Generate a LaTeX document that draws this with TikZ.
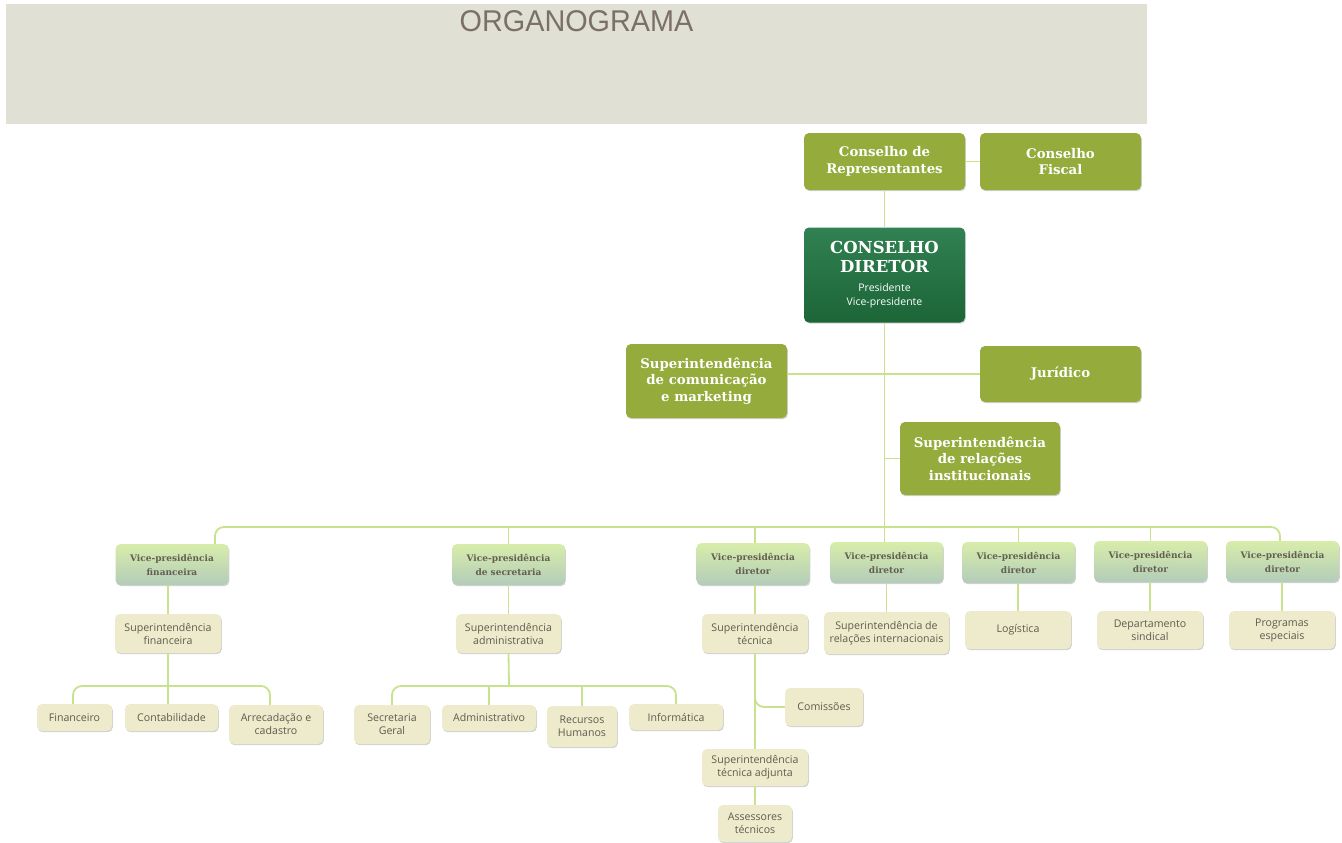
\documentclass[tikz,border=0pt]{standalone}
\usepackage{fontspec}
\setmainfont{DejaVu Serif}
\newfontfamily\slab{DejaVu Serif}
\newfontfamily\subf{Open Sans}
\newfontfamily\titlef{Liberation Sans}
\usetikzlibrary{shadows}
\definecolor{banner}{HTML}{E1E0D5}
\definecolor{titlec}{HTML}{7B7067}
\definecolor{olive}{HTML}{95AB3B}
\definecolor{dgtop}{HTML}{318152}
\definecolor{dgbot}{HTML}{1C6537}
\definecolor{vptop}{HTML}{D8EDAA}
\definecolor{vpbot}{HTML}{B3CCB9}
\definecolor{vptext}{HTML}{635F52}
\definecolor{pale}{HTML}{EDEBCB}
\definecolor{subtext}{HTML}{5E5B50}
\definecolor{lineg}{HTML}{C8E28E}
\newcommand{\cdbig}{\slab\bfseries\fontsize{16.5}{19}\selectfont}
\newcommand{\cdsmall}{\subf\mdseries\fontsize{10.5}{13}\selectfont}
\tikzset{
  sz/.style 2 args={minimum width=#1pt, minimum height=#2pt},
  shad/.style={drop shadow={shadow xshift=0.8pt, shadow yshift=-1.2pt, opacity=0.18, fill=black}},
  topbox/.style={rectangle, rounded corners=5pt, fill=olive, text=white, inner sep=0pt,
    font=\slab\bfseries\fontsize{13.3}{16.5}\selectfont, align=center, shad},
  dirbox/.style={rectangle, rounded corners=5pt, top color=dgtop, bottom color=dgbot, text=white,
    inner sep=0pt, align=center, font=\cdbig, shad},
  vpbox/.style={rectangle, rounded corners=5pt, top color=vptop, bottom color=vpbot, text=vptext,
    inner sep=0pt, font=\slab\bfseries\fontsize{9}{14}\selectfont, align=center, shad},
  subbox/.style={rectangle, rounded corners=5pt, fill=pale, text=subtext, inner sep=0pt,
    font=\subf\fontsize{10.6}{13}\selectfont, align=center, shad},
  conn/.style={draw=lineg, line width=1.8pt},
}
\begin{document}
\begin{tikzpicture}[x=1pt,y=-1pt]
\useasboundingbox (0,0) rectangle (1342,843);
% banner
\fill[banner] (6,4) rectangle (1147,124);
\node[text=titlec, font=\titlef\fontsize{30}{30}\selectfont, inner sep=0pt] (title) at (576.5,21.5) {\scalebox{0.96}[1]{ORGANOGRAMA}};

\coordinate (bus) at (884,527);
\coordinate (b1) at (168,686);
\coordinate (b2) at (509,686);

% top level nodes
\node[topbox, sz={161}{57}] (CR) at (884.5,161.5) {Conselho de\\Representantes};
\node[topbox, sz={161}{57}] (CF) at (1060.5,161.5) {Conselho\\Fiscal};
\node[dirbox, sz={161}{95}] (CD) at (884.5,275) {CONSELHO\\DIRETOR\\[0pt]\cdsmall Presidente\\[-5pt]\cdsmall Vice-presidente};
\node[topbox, sz={161}{74}] (SCM) at (706.5,381) {Superintendência\\de comunicação\\e marketing};
\node[topbox, sz={161}{56}] (JUR) at (1060.5,374) {Jurídico};
\node[topbox, sz={160}{73}] (SRI) at (980,458.5) {Superintendência\\de relações\\institucionais};

% vice-presidencies
\node[vpbox, sz={113}{41}] (VP1) at (172,564.5) {Vice-presidência\\financeira};
\node[vpbox, sz={113}{41}] (VP2) at (508.5,564.5) {Vice-presidência\\de secretaria};
\node[vpbox, sz={113}{42}] (VP3) at (753,564) {Vice-presidência\\diretor};
\node[vpbox, sz={113}{41}] (VP4) at (886.5,562.5) {Vice-presidência\\diretor};
\node[vpbox, sz={113}{41}] (VP5) at (1018.5,562.5) {Vice-presidência\\diretor};
\node[vpbox, sz={113}{41}] (VP6) at (1150.5,561.5) {Vice-presidência\\diretor};
\node[vpbox, sz={113}{41}] (VP7) at (1282.5,561.5) {Vice-presidência\\diretor};

% second level
\node[subbox, sz={106}{39}] (SF) at (168,633.5) {Superintendência\\financeira};
\node[subbox, sz={105}{39}] (SA) at (508.5,633.5) {Superintendência\\administrativa};
\node[subbox, sz={106}{39}] (ST) at (755,633.5) {Superintendência\\técnica};
\node[subbox, sz={125}{42}] (SRIN) at (886.5,633) {Superintendência de\\relações internacionais};
\node[subbox, sz={106}{38}] (LOG) at (1018,630) {Logística};
\node[subbox, sz={106}{38}] (DS) at (1150,630) {Departamento\\sindical};
\node[subbox, sz={106}{38}] (PE) at (1282,630) {Programas\\especiais};

% third level
\node[subbox, sz={75}{27}] (FIN) at (74.5,717.5) {Financeiro};
\node[subbox, sz={93}{27}] (CONT) at (171.5,717.5) {Contabilidade};
\node[subbox, sz={94}{39}] (ARR) at (276,724.5) {Arrecadação e\\cadastro};
\node[subbox, sz={76}{39}] (SG) at (392,724.5) {Secretaria\\Geral};
\node[subbox, sz={94}{26}] (ADM) at (489,718) {Administrativo};
\node[subbox, sz={70}{41}] (RH) at (582,726.5) {Recursos\\Humanos};
\node[subbox, sz={94}{26}] (INF) at (676,717) {Informática};
\node[subbox, sz={78}{38}] (COM) at (824,707) {Comissões};
\node[subbox, sz={106}{37}] (STA) at (755,767.5) {Superintendência\\técnica adjunta};
\node[subbox, sz={74}{37}] (AT) at (755,823.5) {Assessores\\técnicos};

% connectors
\draw[conn] (CR.east) -- (CR.east -| CF.west);
\draw[conn] (CR.south) -- (CD.north);
\draw[conn] (CD.south) -- (CD.south |- VP4.north);
\draw[conn] (JUR.west) -- (JUR.west -| SCM.east);
\draw[conn] (SRI.west) -- (SRI.west -| CD.south);
\draw[conn, rounded corners=9pt] ([xshift=43pt]VP1.north) |- (bus) -| ([xshift=-2.5pt]VP7.north);
\draw[conn] (VP2.north) -- (VP2.north |- bus);
\draw[conn] ([xshift=2pt]VP3.north) -- ([xshift=2pt]VP3.north |- bus);
\draw[conn] (VP5.north) -- (VP5.north |- bus);
\draw[conn] (VP6.north) -- (VP6.north |- bus);
\draw[conn] (SF.north) -- (SF.north |- VP1.south);
\draw[conn] (SA.north) -- (VP2.south);
\draw[conn] (ST.north) -- (ST.north |- VP3.south);
\draw[conn] (SRIN.north) -- (VP4.south);
\draw[conn] (LOG.north) -- (LOG.north |- VP5.south);
\draw[conn] (DS.north) -- (DS.north |- VP6.south);
\draw[conn] (PE.north) -- (PE.north |- VP7.south);
\draw[conn, rounded corners=9pt] ([xshift=-1.5pt]FIN.north) |- (b1) -| ([xshift=-6pt]ARR.north);
\draw[conn] (SF.south) -- (b1);
\draw[conn] (CONT.north -| b1) -- (b1);
\draw[conn, rounded corners=9pt] (SG.north) |- (b2) -| (INF.north);
\draw[conn] (SA.south) -- (b2);
\draw[conn] (ADM.north) -- (ADM.north |- b2);
\draw[conn] (RH.north) -- (RH.north |- b2);
\draw[conn] (ST.south) -- (STA.north);
\draw[conn, rounded corners=9pt] ([yshift=-30pt]ST.south) |- (COM.west);
\draw[conn] (STA.south) -- (AT.north);
\end{tikzpicture}
\end{document}
